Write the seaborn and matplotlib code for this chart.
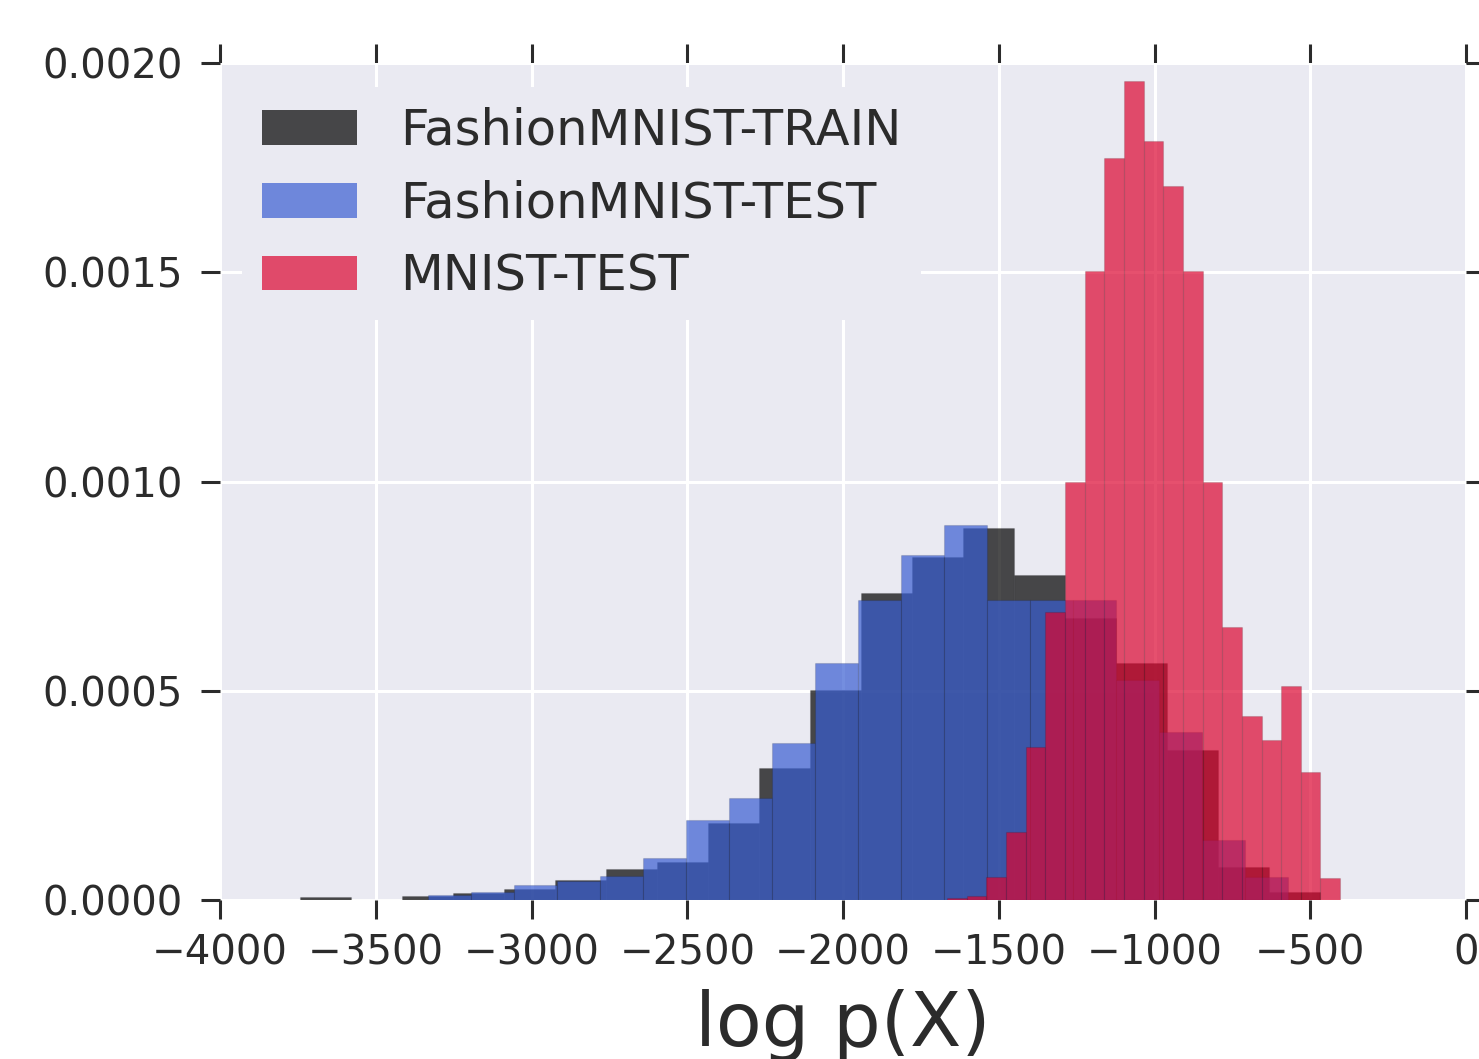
import numpy as np
import pandas as pd
import seaborn as sns
import matplotlib
matplotlib.use("Agg")
import matplotlib.pyplot as plt
from matplotlib.patches import Patch
from matplotlib.colors import to_rgba

# ---- data (density per bin) ----
train_range = (-3743, -468)
train_density = [7.2e-6, 0.0, 9.5e-6, 1.67e-5, 2.63e-5, 4.77e-5, 7.40e-5, 9.07e-5,
                 1.838e-4, 3.150e-4, 5.012e-4, 7.327e-4, 8.186e-4, 8.878e-4,
                 7.756e-4, 6.730e-4, 5.656e-4, 3.580e-4, 7.88e-5, 1.91e-5]

test_range = (-3332, -571)
test_density = [1.19e-5, 1.91e-5, 3.58e-5, 4.53e-5, 5.73e-5, 1.002e-4, 1.909e-4,
                2.434e-4, 3.747e-4, 5.656e-4, 7.160e-4, 8.234e-4, 8.950e-4,
                7.160e-4, 7.160e-4, 7.160e-4, 5.251e-4, 4.009e-4, 1.432e-4, 5.49e-5]

mnist_range = (-1666, -404)
mnist_density = [4.8e-6, 9.5e-6, 5.49e-5, 1.623e-4, 3.651e-4, 6.873e-4, 1.000e-3,
                 1.5036e-3, 1.7732e-3, 1.957e-3, 1.8138e-3, 1.7064e-3, 1.5036e-3,
                 1.000e-3, 6.515e-4, 4.391e-4, 3.819e-4, 5.107e-4, 3.055e-4, 5.25e-5]

labels = ["FashionMNIST-TRAIN", "FashionMNIST-TEST", "MNIST-TEST"]
colors = ["#000000", "#395ed2", "#dc0630"]

x_ticks = [-4000, -3500, -3000, -2500, -2000, -1500, -1000, -500, 0]
y_ticks = [0.0, 0.0005, 0.0010, 0.0015, 0.0020]

BG = "#eaeaf2"
TXT = "#2b2b2b"
sns.set_style("darkgrid", {"axes.facecolor": BG, "grid.color": "white"})
plt.rcParams["font.family"] = ["DejaVu Sans"]

fig = plt.figure(figsize=(14.79, 10.59), dpi=100)
ax = fig.add_axes([220 / 1479, 159 / 1059, 1246 / 1479, 837 / 1059])

series = [(train_range, train_density), (test_range, test_density), (mnist_range, mnist_density)]
for (rng, dens), col in zip(series, colors):
    nb = len(dens)
    edges = np.linspace(rng[0], rng[1], nb + 1)
    centers = (edges[:-1] + edges[1:]) / 2
    df = pd.DataFrame({"x": centers, "w": dens})
    n_before = len(ax.patches)
    sns.histplot(data=df, x="x", weights="w", bins=nb, binrange=rng, stat="count",
                 color=col, alpha=0.7, linewidth=0.8, ax=ax)
    for p in ax.patches[n_before:]:
        p.set_alpha(None)
        p.set_facecolor(to_rgba(col, 0.7))
        p.set_edgecolor((0, 0, 0, 0.12))
        p.set_linewidth(0.8)

ax.set_xlim(-4000, 0)
ax.set_ylim(0, 0.002)
ax.set_xticks(x_ticks)
ax.set_yticks(y_ticks)
ax.set_yticklabels([f"{v:.4f}" for v in y_ticks])
ax.set_ylabel("")
ax.set_xlabel("log p(X)", fontsize=54, color=TXT, labelpad=11)
ax.grid(True, color="white", linewidth=2.2)
ax.set_axisbelow(True)
for s in ax.spines.values():
    s.set_visible(False)

ax.tick_params(axis="both", which="major", direction="out", length=14, width=2.2,
               color=TXT, labelsize=29, labelcolor=TXT,
               top=True, right=True, bottom=True, left=True,
               labeltop=False, labelright=False)
ax.tick_params(axis="y", pad=13)
ax.tick_params(axis="x", pad=10)

handles = [Patch(facecolor=to_rgba(c, 0.7), edgecolor="none") for c in colors]
leg = ax.legend(handles, labels, loc="upper left",
                bbox_to_anchor=(22 / 1246, 1 - 24 / 837),
                borderaxespad=0, frameon=True, facecolor=BG, edgecolor="none",
                framealpha=1, fancybox=False, fontsize=35.7, handlelength=1.92,
                handleheight=0.7, handletextpad=0.87, labelspacing=0.5, borderpad=0.4)
for t in leg.get_texts():
    t.set_color(TXT)

fig.savefig("out.png", dpi=100, facecolor="white")
